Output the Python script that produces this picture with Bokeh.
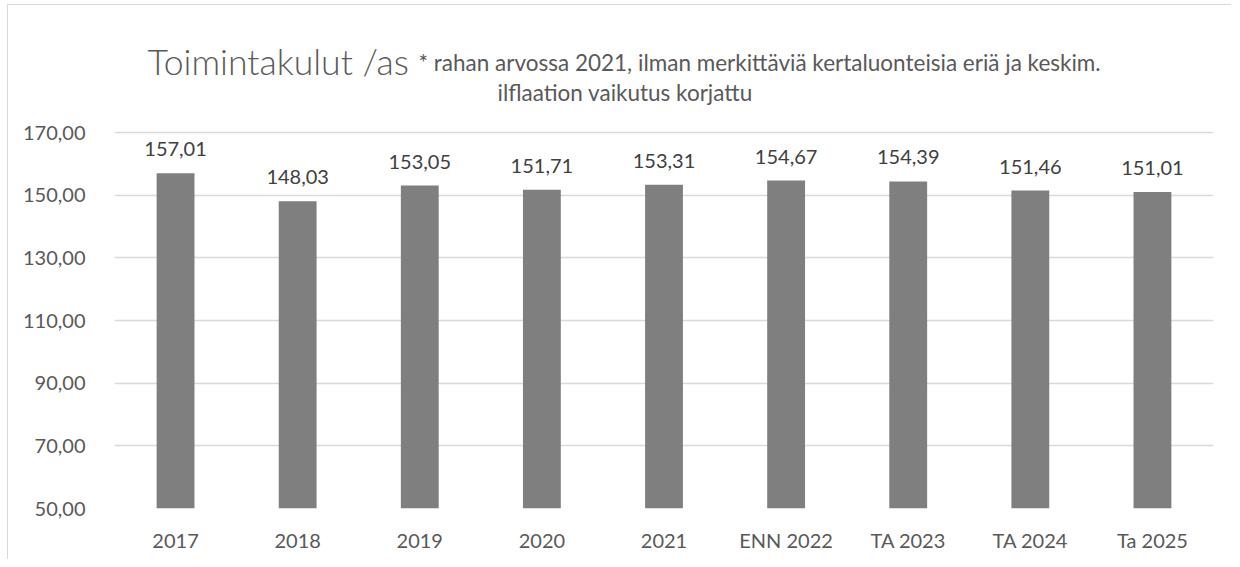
from bokeh.plotting import figure
from bokeh.models import (ColumnDataSource, Range1d, FixedTicker, CustomJSTickFormatter,
                          LabelSet, Label)
from bokeh.core.properties import value
from bokeh.embed import file_html
from bokeh.resources import INLINE

categories = ["2017", "2018", "2019", "2020", "2021", "ENN 2022", "TA 2023", "TA 2024", "Ta 2025"]
values = [157.01, 148.03, 153.05, 151.71, 153.31, 154.67, 154.39, 151.46, 151.01]
y_ticks = [50, 70, 90, 110, 130, 150, 170]
title_main = "Toimintakulut /as"
subtitle_1 = "* rahan arvossa 2021, ilman merkittäviä kertaluonteisia eriä ja keskim."
subtitle_2 = "ilflaation vaikutus korjattu"

FONT = "Lato"
TXT = "#595959"

labels = [f"{v:.2f}".replace(".", ",") for v in values]
src = ColumnDataSource(dict(cat=categories, val=values, lab=labels))

# frame extends upward (above the 170 gridline) so the title labels are not clipped
p = figure(x_range=categories, y_range=Range1d(50, 208.94), width=1224, height=555,
           output_backend="svg", toolbar_location=None,
           min_border_left=106, min_border_right=19, min_border_top=5, min_border_bottom=52)
p.styles = {"margin-left": "7px", "margin-top": "4px",
            "border-left": "1px solid #d9d9d9", "border-top": "1px solid #d9d9d9"}
p.outline_line_color = None
p.background_fill_color = "white"
p.border_fill_color = "white"

p.vbar(x="cat", top="val", bottom=50, width=0.31, source=src,
       fill_color="#7f7f7f", line_color=None)

p.add_layout(LabelSet(x="cat", y="val", text="lab", source=src, text_align="center",
                      text_baseline="alphabetic", y_offset=17, text_font=value(FONT),
                      text_font_size="20px", text_color="#404040"))

p.yaxis.ticker = FixedTicker(ticks=y_ticks)
p.yaxis.formatter = CustomJSTickFormatter(code="return tick.toFixed(2).replace('.', ',');")
for ax in (p.xaxis, p.yaxis):
    ax.axis_line_color = None
    ax.major_tick_line_color = None
    ax.minor_tick_line_color = None
    ax.major_label_text_font = FONT
    ax.major_label_text_font_size = "20px"
    ax.major_label_text_color = TXT
p.yaxis.major_label_standoff = 23
p.xaxis.major_label_standoff = 13

p.xgrid.grid_line_color = None
p.ygrid.grid_line_color = "#d9d9d9"
p.ygrid.grid_line_width = 1.5
p.ygrid.ticker = FixedTicker(ticks=y_ticks)

p.add_layout(Label(x=33, y=447, x_units="screen", y_units="screen", text=title_main,
                   text_font="'Lato Light', Lato", text_font_size="35.6px", text_color=TXT,
                   text_baseline="alphabetic"))
p.add_layout(Label(x=304, y=446, x_units="screen", y_units="screen", text=subtitle_1,
                   text_font=FONT, text_font_size="22.5px", text_color=TXT,
                   text_baseline="alphabetic"))
p.add_layout(Label(x=383, y=416, x_units="screen", y_units="screen", text=subtitle_2,
                   text_font=FONT, text_font_size="22.5px", text_color=TXT,
                   text_baseline="alphabetic"))

open("out.html", "w").write(file_html(p, INLINE))
